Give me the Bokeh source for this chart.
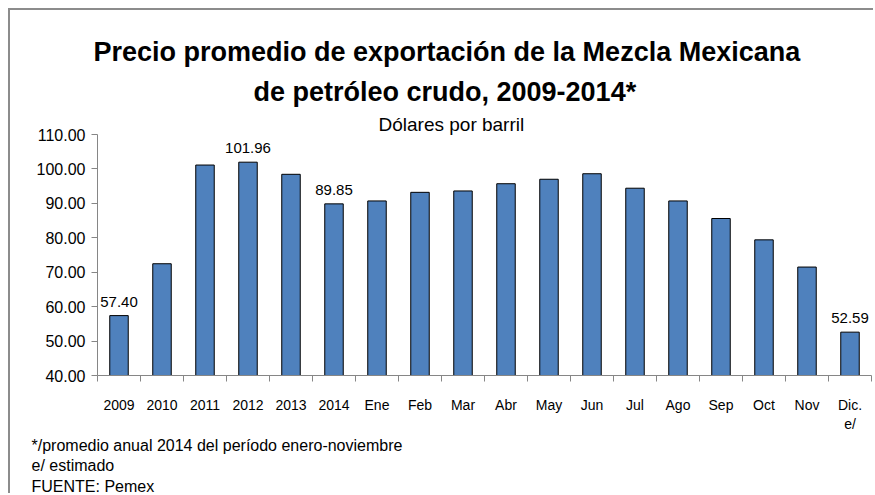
from bokeh.plotting import figure
from bokeh.models import (Range1d, FixedTicker, NumeralTickFormatter, Title,
                          ColumnDataSource)
from bokeh.core.properties import value
from bokeh.embed import file_html
from bokeh.resources import INLINE

# ---- data ----
categories = ["2009", "2010", "2011", "2012", "2013", "2014", "Ene", "Feb", "Mar",
              "Abr", "May", "Jun", "Jul", "Ago", "Sep", "Oct", "Nov", "Dic.\ne/"]
prices = [57.40, 72.46, 101.13, 101.96, 98.44, 89.85, 90.7, 93.2, 93.6,
          95.7, 97.0, 98.6, 94.4, 90.7, 85.6, 79.4, 71.5, 52.59]
labeled = ["2009", "2012", "2014", "Dic.\ne/"]
y_ticks = [40, 50, 60, 70, 80, 90, 100, 110]

title_1 = "Precio promedio de exportación de la Mezcla Mexicana"
title_2 = "de petróleo crudo, 2009-2014*"
subtitle = "Dólares por barril"
notes = ["*/promedio anual 2014 del período enero-noviembre",
         "e/ estimado",
         "FUENTE: Pemex"]

FONT = "Liberation Sans"
BAR = "#4F81BD"
AXIS = "#868686"

centers = [i + 0.5 for i in range(len(categories))]
bounds = list(range(len(categories) + 1))

p = figure(width=865, height=485, output_backend="svg", toolbar_location=None,
           x_range=Range1d(0, len(categories)), y_range=Range1d(y_ticks[0], y_ticks[-1]),
           min_border_left=87, min_border_right=4, min_border_top=124,
           min_border_bottom=10)
p.styles = {"margin-left": "8px", "margin-top": "8px",
            "border-top": "2px solid #8c8c8c", "border-left": "2px solid #8c8c8c"}
p.outline_line_color = None
p.grid.visible = False
p.background_fill_color = "white"
p.border_fill_color = "white"

src = ColumnDataSource(dict(x=centers, top=prices))
p.vbar(x="x", top="top", bottom=y_ticks[0], width=0.43, source=src,
       fill_color=BAR, line_color="black", line_width=1)

lab_idx = [categories.index(c) for c in labeled]
lab_src = ColumnDataSource(dict(x=[centers[i] for i in lab_idx],
                                y=[prices[i] for i in lab_idx],
                                t=["%.2f" % prices[i] for i in lab_idx]))
p.text(x="x", y="y", text="t", source=lab_src, text_align="center",
       text_baseline="bottom", y_offset=-9, text_font=value(FONT),
       text_font_size="15px", text_color="black")

# y axis
ya = p.yaxis[0]
ya.ticker = FixedTicker(ticks=y_ticks)
ya.formatter = NumeralTickFormatter(format="0.00")
ya.axis_line_color = AXIS
ya.major_tick_line_color = AXIS
ya.major_tick_out = 6
ya.major_tick_in = 0
ya.minor_tick_line_color = None
ya.major_label_text_font = FONT
ya.major_label_text_font_size = "16px"
ya.major_label_text_color = "black"
ya.major_label_standoff = 6

# x axis
xa = p.xaxis[0]
xa.ticker = FixedTicker(ticks=centers, minor_ticks=bounds)
xa.major_label_overrides = {c: lab for c, lab in zip(centers, categories)}
xa.axis_line_color = AXIS
xa.major_tick_line_color = None
xa.major_tick_out = 0
xa.major_tick_in = 0
xa.minor_tick_line_color = AXIS
xa.minor_tick_out = 6
xa.minor_tick_in = 0
xa.major_label_text_font = FONT
xa.major_label_text_font_size = "14px"
xa.major_label_text_color = "black"
xa.major_label_standoff = 15

# titles above (first added sits closest to the plot area)
for txt, size, bold, off, so in [(subtitle, "19px", "normal", 281, 0),
                                  (title_2, "27px", "bold", 253 - 97, 9),
                                  (title_1, "27px", "bold", -4, 8)]:
    p.add_layout(Title(text=txt, align="left", offset=off, standoff=so,
                       text_font=FONT, text_font_size=size, text_font_style=bold,
                       text_color="black"), "above")

# notes below
for note, so in zip(notes, [0, 2, 2]):
    p.add_layout(Title(text=note, align="left", offset=-66, standoff=so,
                       text_font=FONT, text_font_size="16px",
                       text_font_style="normal", text_color="black"), "below")

open("out.html", "w").write(file_html(p, INLINE))
